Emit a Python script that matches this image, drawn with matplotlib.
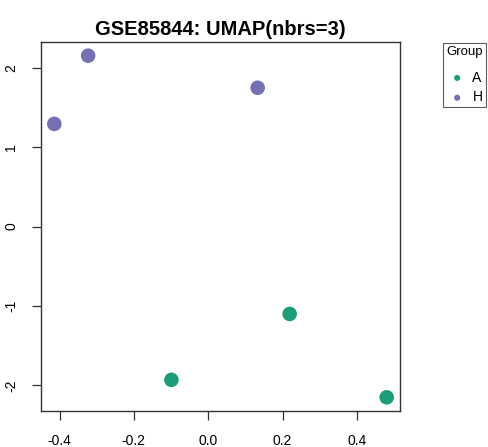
import matplotlib
matplotlib.use("Agg")
import matplotlib.pyplot as plt

plt.rcParams['font.family'] = ['Liberation Sans', 'DejaVu Sans']

groups = ["A", "H"]
colors = {"A": "#1B9E77", "H": "#7570B3"}
umap_x = {"A": [0.219, -0.099, 0.480], "H": [-0.323, -0.414, 0.133]}
umap_y = {"A": [-1.10, -1.93, -2.15], "H": [2.153, 1.294, 1.749]}
xticks = [-0.4, -0.2, 0.0, 0.2, 0.4]
yticks = [-2, -1, 0, 1, 2]

fig = plt.figure(figsize=(4.89, 4.47), dpi=100)
ax = fig.add_axes([41 / 489, 36 / 447, 359 / 489, 369 / 447])

for g in groups:
    ax.scatter(umap_x[g], umap_y[g], s=110, color=colors[g], label=g,
               edgecolors="none", zorder=3)

# R style 4% padding
allx = umap_x["A"] + umap_x["H"]
ally = umap_y["A"] + umap_y["H"]
dx = (max(allx) - min(allx)) * 0.04
dy = (max(ally) - min(ally)) * 0.04
ax.set_xlim(min(allx) - dx, max(allx) + dx)
ax.set_ylim(min(ally) - dy, max(ally) + dy)

ax.set_xticks(xticks)
ax.set_xticklabels(["%.1f" % v for v in xticks])
ax.set_yticks(yticks)
ax.set_yticklabels([str(v) for v in yticks], rotation=90, va="center")
ax.tick_params(length=6.5, width=0.9, color="#333333", labelsize=10, pad=10)
for sp in ax.spines.values():
    sp.set_linewidth(1.0)
    sp.set_color("#333333")

ax.set_title("GSE85844: UMAP(nbrs=3)", fontsize=14.5, fontweight="bold", pad=5)

leg = ax.legend(title="Group", loc="upper left", bbox_to_anchor=(443 / 489, 1 - 43 / 447),
                bbox_transform=fig.transFigure, fontsize=10, title_fontsize=9.5,
                markerscale=0.42, handletextpad=0.3, handlelength=1.6,
                borderpad=0.22, labelspacing=0.42, fancybox=False, alignment="left",
                borderaxespad=0)
leg._legend_box.sep = 9
leg.get_frame().set_edgecolor("#333333")
leg.get_frame().set_linewidth(0.8)

fig.savefig("out.png", dpi=100)
